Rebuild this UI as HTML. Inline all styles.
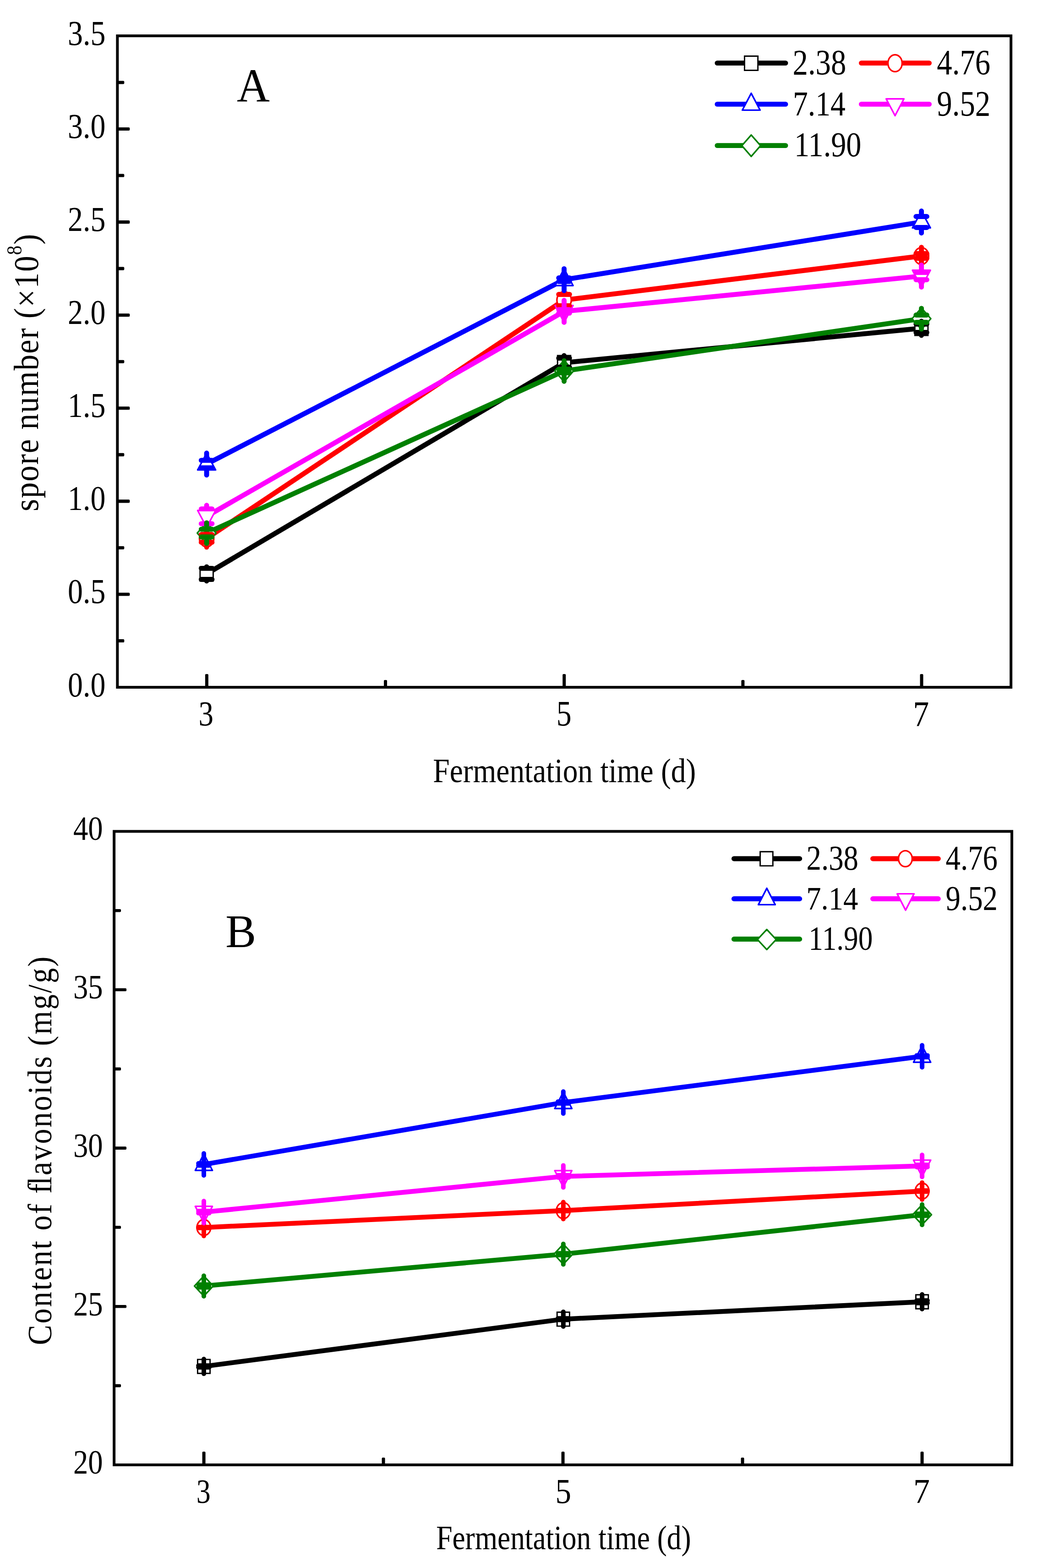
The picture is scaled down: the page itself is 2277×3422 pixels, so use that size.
<!DOCTYPE html>
<html lang="en"><head><meta charset="utf-8"><title>Fermentation time charts</title>
<style>
html,body{margin:0;padding:0;background:#fff;}
body{width:2277px;height:3422px;overflow:hidden;}
svg{display:block;}
</style></head>
<body>
<svg width="2277" height="3422" viewBox="0 0 2277 3422" font-family='"Liberation Serif", "DejaVu Serif", serif' fill="#000">
<rect width="2277" height="3422" fill="#fff"/>
<path d="M256.30 1395.00H269.10a2.2 2.2 0 0 1 2.2 2.2V1399.90a2.2 2.2 0 0 1 -2.2 2.2H256.30z" fill="#000"/>
<path d="M256.30 1293.45H281.10a2.2 2.2 0 0 1 2.2 2.2V1298.35a2.2 2.2 0 0 1 -2.2 2.2H256.30z" fill="#000"/>
<path d="M256.30 1191.90H269.10a2.2 2.2 0 0 1 2.2 2.2V1196.80a2.2 2.2 0 0 1 -2.2 2.2H256.30z" fill="#000"/>
<path d="M256.30 1090.35H281.10a2.2 2.2 0 0 1 2.2 2.2V1095.25a2.2 2.2 0 0 1 -2.2 2.2H256.30z" fill="#000"/>
<path d="M256.30 988.80H269.10a2.2 2.2 0 0 1 2.2 2.2V993.70a2.2 2.2 0 0 1 -2.2 2.2H256.30z" fill="#000"/>
<path d="M256.30 887.25H281.10a2.2 2.2 0 0 1 2.2 2.2V892.15a2.2 2.2 0 0 1 -2.2 2.2H256.30z" fill="#000"/>
<path d="M256.30 785.70H269.10a2.2 2.2 0 0 1 2.2 2.2V790.60a2.2 2.2 0 0 1 -2.2 2.2H256.30z" fill="#000"/>
<path d="M256.30 684.15H281.10a2.2 2.2 0 0 1 2.2 2.2V689.05a2.2 2.2 0 0 1 -2.2 2.2H256.30z" fill="#000"/>
<path d="M256.30 582.60H269.10a2.2 2.2 0 0 1 2.2 2.2V587.50a2.2 2.2 0 0 1 -2.2 2.2H256.30z" fill="#000"/>
<path d="M256.30 481.05H281.10a2.2 2.2 0 0 1 2.2 2.2V485.95a2.2 2.2 0 0 1 -2.2 2.2H256.30z" fill="#000"/>
<path d="M256.30 379.50H269.10a2.2 2.2 0 0 1 2.2 2.2V384.40a2.2 2.2 0 0 1 -2.2 2.2H256.30z" fill="#000"/>
<path d="M256.30 277.95H281.10a2.2 2.2 0 0 1 2.2 2.2V282.85a2.2 2.2 0 0 1 -2.2 2.2H256.30z" fill="#000"/>
<path d="M256.30 176.40H269.10a2.2 2.2 0 0 1 2.2 2.2V181.30a2.2 2.2 0 0 1 -2.2 2.2H256.30z" fill="#000"/>
<path d="M447.88 1499.90V1473.10a2.2 2.2 0 0 1 2.2 -2.2H452.68a2.2 2.2 0 0 1 2.2 2.2V1499.90z" fill="#000"/>
<path d="M838.04 1499.90V1486.10a2.2 2.2 0 0 1 2.2 -2.2H842.84a2.2 2.2 0 0 1 2.2 2.2V1499.90z" fill="#000"/>
<path d="M1228.20 1499.90V1473.10a2.2 2.2 0 0 1 2.2 -2.2H1233.00a2.2 2.2 0 0 1 2.2 2.2V1499.90z" fill="#000"/>
<path d="M1618.36 1499.90V1486.10a2.2 2.2 0 0 1 2.2 -2.2H1623.16a2.2 2.2 0 0 1 2.2 2.2V1499.90z" fill="#000"/>
<path d="M2008.52 1499.90V1473.10a2.2 2.2 0 0 1 2.2 -2.2H2013.32a2.2 2.2 0 0 1 2.2 2.2V1499.90z" fill="#000"/>
<rect x="256.30" y="78.20" width="1950.80" height="1421.70" fill="none" stroke="#000" stroke-width="6.0" stroke-linejoin="miter"/>
<polyline points="451.10,1252.40 1231.50,791.55 2011.60,716.40" fill="none" stroke="#000000" stroke-width="10.8" stroke-linejoin="round" stroke-linecap="round"/>
<polygon points="436.80,1236.85 465.40,1236.85 465.40,1267.95 436.80,1267.95" fill="#fff" stroke="#000000" stroke-width="2.9" stroke-linejoin="miter" stroke-miterlimit="10"/>
<polygon points="1217.20,776.00 1245.80,776.00 1245.80,807.10 1217.20,807.10" fill="#fff" stroke="#000000" stroke-width="2.9" stroke-linejoin="miter" stroke-miterlimit="10"/>
<polygon points="1997.30,700.85 2025.90,700.85 2025.90,731.95 1997.30,731.95" fill="#fff" stroke="#000000" stroke-width="2.9" stroke-linejoin="miter" stroke-miterlimit="10"/>
<polyline points="451.10,1175.00 1231.50,654.85 2011.60,558.65" fill="none" stroke="#ff0000" stroke-width="10.8" stroke-linejoin="round" stroke-linecap="round"/>
<ellipse cx="451.10" cy="1175.00" rx="15.70" ry="18.30" fill="#fff" stroke="#ff0000" stroke-width="3.4"/>
<ellipse cx="1231.50" cy="654.85" rx="15.70" ry="18.30" fill="#fff" stroke="#ff0000" stroke-width="3.4"/>
<ellipse cx="2011.60" cy="558.65" rx="15.70" ry="18.30" fill="#fff" stroke="#ff0000" stroke-width="3.4"/>
<polyline points="451.10,1012.75 1231.50,610.40 2011.60,484.50" fill="none" stroke="#0000ff" stroke-width="10.8" stroke-linejoin="round" stroke-linecap="round"/>
<polygon points="451.10,988.95 470.70,1025.65 431.50,1025.65" fill="#fff" stroke="#0000ff" stroke-width="3.4" stroke-linejoin="round"/>
<polygon points="1231.50,586.60 1251.10,623.30 1211.90,623.30" fill="#fff" stroke="#0000ff" stroke-width="3.4" stroke-linejoin="round"/>
<polygon points="2011.60,460.70 2031.20,497.40 1992.00,497.40" fill="#fff" stroke="#0000ff" stroke-width="3.4" stroke-linejoin="round"/>
<polyline points="451.10,1126.75 1231.50,679.50 2011.60,602.50" fill="none" stroke="#ff00ff" stroke-width="10.8" stroke-linejoin="round" stroke-linecap="round"/>
<polygon points="451.10,1150.85 470.70,1114.05 431.50,1114.05" fill="#fff" stroke="#ff00ff" stroke-width="3.4" stroke-linejoin="round"/>
<polygon points="1231.50,703.60 1251.10,666.80 1211.90,666.80" fill="#fff" stroke="#ff00ff" stroke-width="3.4" stroke-linejoin="round"/>
<polygon points="2011.60,626.60 2031.20,589.80 1992.00,589.80" fill="#fff" stroke="#ff00ff" stroke-width="3.4" stroke-linejoin="round"/>
<polyline points="451.10,1163.40 1231.50,809.70 2011.60,695.50" fill="none" stroke="#008000" stroke-width="10.8" stroke-linejoin="round" stroke-linecap="round"/>
<polygon points="451.10,1140.03 471.55,1163.40 451.10,1186.78 430.65,1163.40" fill="#fff" stroke="#008000" stroke-width="3.4" stroke-linejoin="round"/>
<polygon points="1231.50,786.33 1251.95,809.70 1231.50,833.08 1211.05,809.70" fill="#fff" stroke="#008000" stroke-width="3.4" stroke-linejoin="round"/>
<polygon points="2011.60,672.12 2032.05,695.50 2011.60,718.88 1991.15,695.50" fill="#fff" stroke="#008000" stroke-width="3.4" stroke-linejoin="round"/>
<path d="M451.10 1236.85V1240.35M451.10 1264.45V1267.95M439.30 1240.35H462.90M439.30 1264.45H462.90" stroke="#000000" stroke-width="10.9" stroke-linecap="round" fill="none"/>
<path d="M1231.50 776.00V781.55M1231.50 801.55V807.10M1219.70 781.55H1243.30M1219.70 801.55H1243.30" stroke="#000000" stroke-width="10.9" stroke-linecap="round" fill="none"/>
<path d="M2011.60 700.85V707.30M2011.60 725.50V731.95M1999.80 707.30H2023.40M1999.80 725.50H2023.40" stroke="#000000" stroke-width="10.9" stroke-linecap="round" fill="none"/>
<path d="M451.10 1155.95V1166.50M451.10 1183.50V1194.05M439.30 1166.50H462.90M439.30 1183.50H462.90" stroke="#ff0000" stroke-width="10.9" stroke-linecap="round" fill="none"/>
<path d="M1231.50 635.80V642.45M1231.50 667.25V673.90M1219.70 642.45H1243.30M1219.70 667.25H1243.30" stroke="#ff0000" stroke-width="10.9" stroke-linecap="round" fill="none"/>
<path d="M2011.60 539.60V553.40M2011.60 563.90V577.70M1999.80 553.40H2023.40M1999.80 563.90H2023.40" stroke="#ff0000" stroke-width="10.9" stroke-linecap="round" fill="none"/>
<path d="M451.10 988.80V1004.60M451.10 1020.90V1036.70M439.30 1004.60H462.90M439.30 1020.90H462.90" stroke="#0000ff" stroke-width="10.9" stroke-linecap="round" fill="none"/>
<path d="M1231.50 586.45V606.50M1231.50 614.30V634.35M1219.70 606.50H1243.30M1219.70 614.30H1243.30" stroke="#0000ff" stroke-width="10.9" stroke-linecap="round" fill="none"/>
<path d="M2011.60 460.55V472.50M2011.60 496.50V508.45M1999.80 472.50H2023.40M1999.80 496.50H2023.40" stroke="#0000ff" stroke-width="10.9" stroke-linecap="round" fill="none"/>
<path d="M451.10 1102.80V1110.60M451.10 1142.90V1150.70M439.30 1110.60H462.90M439.30 1142.90H462.90" stroke="#ff00ff" stroke-width="10.9" stroke-linecap="round" fill="none"/>
<path d="M1231.50 655.55V675.60M1231.50 683.40V703.45M1219.70 675.60H1243.30M1219.70 683.40H1243.30" stroke="#ff00ff" stroke-width="10.9" stroke-linecap="round" fill="none"/>
<path d="M2011.60 578.55V594.50M2011.60 610.50V626.45M1999.80 594.50H2023.40M1999.80 610.50H2023.40" stroke="#ff00ff" stroke-width="10.9" stroke-linecap="round" fill="none"/>
<path d="M451.10 1140.85V1155.00M451.10 1171.80V1185.95M439.30 1155.00H462.90M439.30 1171.80H462.90" stroke="#008000" stroke-width="10.9" stroke-linecap="round" fill="none"/>
<path d="M1231.50 787.15V805.80M1231.50 813.60V832.25M1219.70 805.80H1243.30M1219.70 813.60H1243.30" stroke="#008000" stroke-width="10.9" stroke-linecap="round" fill="none"/>
<path d="M2011.60 672.95V687.50M2011.60 703.50V718.05M1999.80 687.50H2023.40M1999.80 703.50H2023.40" stroke="#008000" stroke-width="10.9" stroke-linecap="round" fill="none"/>
<line x1="1565.85" y1="137.60" x2="1714.95" y2="137.60" stroke="#000000" stroke-width="10.9" stroke-linecap="round"/>
<polygon points="1625.40,122.45 1654.60,122.45 1654.60,153.55 1625.40,153.55" fill="#fff" stroke="#000000" stroke-width="2.9" stroke-linejoin="miter" stroke-miterlimit="10"/>
<text transform="matrix(0.6680 0 0 0.7750 1730.50 161.80)" font-size="100px" >2.38</text>
<line x1="1880.45" y1="137.60" x2="2028.55" y2="137.60" stroke="#ff0000" stroke-width="10.9" stroke-linecap="round"/>
<ellipse cx="1954.00" cy="137.95" rx="15.45" ry="18.45" fill="#fff" stroke="#ff0000" stroke-width="3.4"/>
<text transform="matrix(0.6680 0 0 0.7750 2045.30 161.80)" font-size="100px" >4.76</text>
<line x1="1565.85" y1="227.40" x2="1714.95" y2="227.40" stroke="#0000ff" stroke-width="10.9" stroke-linecap="round"/>
<polygon points="1640.00,203.60 1659.40,240.40 1620.60,240.40" fill="#fff" stroke="#0000ff" stroke-width="3.4" stroke-linejoin="round"/>
<text transform="matrix(0.6563 0 0 0.7600 1730.93 252.06)" font-size="100px" >7.14</text>
<line x1="1880.45" y1="227.40" x2="2028.55" y2="227.40" stroke="#ff00ff" stroke-width="10.9" stroke-linecap="round"/>
<polygon points="1954.00,252.40 1973.40,215.70 1934.60,215.70" fill="#fff" stroke="#ff00ff" stroke-width="3.4" stroke-linejoin="round"/>
<text transform="matrix(0.6680 0 0 0.7750 2045.30 251.60)" font-size="100px" >9.52</text>
<line x1="1565.85" y1="317.60" x2="1714.95" y2="317.60" stroke="#008000" stroke-width="10.9" stroke-linecap="round"/>
<polygon points="1640.00,294.60 1660.45,317.97 1640.00,341.35 1619.55,317.97" fill="#fff" stroke="#008000" stroke-width="3.4" stroke-linejoin="round"/>
<text transform="matrix(0.6625 0 0 0.7632 1733.90 341.26)" font-size="100px" >11.90</text>
<text transform="matrix(0.6580 0 0 0.7600 148.05 1519.50)" font-size="100px" >0.0</text>
<text transform="matrix(0.6580 0 0 0.7600 148.05 1316.40)" font-size="100px" >0.5</text>
<text transform="matrix(0.6580 0 0 0.7600 148.05 1113.30)" font-size="100px" >1.0</text>
<text transform="matrix(0.6580 0 0 0.7600 148.05 910.20)" font-size="100px" >1.5</text>
<text transform="matrix(0.6580 0 0 0.7600 148.05 707.10)" font-size="100px" >2.0</text>
<text transform="matrix(0.6580 0 0 0.7600 148.05 504.00)" font-size="100px" >2.5</text>
<text transform="matrix(0.6580 0 0 0.7600 148.05 300.90)" font-size="100px" >3.0</text>
<text transform="matrix(0.6580 0 0 0.7600 148.05 97.80)" font-size="100px" >3.5</text>
<text transform="matrix(0.6497 0 0 0.7673 433.61 1583.13)" font-size="100px" >3</text>
<text transform="matrix(0.6584 0 0 0.7729 1214.81 1583.23)" font-size="100px" >5</text>
<text transform="matrix(0.6994 0 0 0.7786 1993.15 1583.70)" font-size="100px" >7</text>
<text transform="matrix(0.9957 0 0 1.0288 517.00 221.80)" font-size="100px" >A</text>
<text transform="matrix(0.6542 0 0 0.7427 945.30 1707.32)" font-size="100px" >Fermentation time (d)</text>
<text transform="translate(82.90 1116.00) rotate(-90) scale(0.9000 1.0000)" font-size="77px" letter-spacing="2.07">spore number (×10<tspan font-size="46px" dy="-36">8</tspan><tspan dy="36">)</tspan></text>
<path d="M249.10 3020.79H261.90a2.2 2.2 0 0 1 2.2 2.2V3025.19a2.2 2.2 0 0 1 -2.2 2.2H249.10z" fill="#000"/>
<path d="M249.10 2847.97H273.90a2.2 2.2 0 0 1 2.2 2.2V2852.38a2.2 2.2 0 0 1 -2.2 2.2H249.10z" fill="#000"/>
<path d="M249.10 2675.16H261.90a2.2 2.2 0 0 1 2.2 2.2V2679.56a2.2 2.2 0 0 1 -2.2 2.2H249.10z" fill="#000"/>
<path d="M249.10 2502.35H273.90a2.2 2.2 0 0 1 2.2 2.2V2506.75a2.2 2.2 0 0 1 -2.2 2.2H249.10z" fill="#000"/>
<path d="M249.10 2329.54H261.90a2.2 2.2 0 0 1 2.2 2.2V2333.94a2.2 2.2 0 0 1 -2.2 2.2H249.10z" fill="#000"/>
<path d="M249.10 2156.72H273.90a2.2 2.2 0 0 1 2.2 2.2V2161.13a2.2 2.2 0 0 1 -2.2 2.2H249.10z" fill="#000"/>
<path d="M249.10 1983.91H261.90a2.2 2.2 0 0 1 2.2 2.2V1988.31a2.2 2.2 0 0 1 -2.2 2.2H249.10z" fill="#000"/>
<path d="M441.59 3196.90V3170.10a2.2 2.2 0 0 1 2.2 -2.2H446.39a2.2 2.2 0 0 1 2.2 2.2V3196.90z" fill="#000"/>
<path d="M833.57 3196.90V3183.10a2.2 2.2 0 0 1 2.2 -2.2H838.37a2.2 2.2 0 0 1 2.2 2.2V3196.90z" fill="#000"/>
<path d="M1225.55 3196.90V3170.10a2.2 2.2 0 0 1 2.2 -2.2H1230.35a2.2 2.2 0 0 1 2.2 2.2V3196.90z" fill="#000"/>
<path d="M1617.53 3196.90V3183.10a2.2 2.2 0 0 1 2.2 -2.2H1622.33a2.2 2.2 0 0 1 2.2 2.2V3196.90z" fill="#000"/>
<path d="M2009.51 3196.90V3170.10a2.2 2.2 0 0 1 2.2 -2.2H2014.31a2.2 2.2 0 0 1 2.2 2.2V3196.90z" fill="#000"/>
<rect x="249.10" y="1814.40" width="1959.90" height="1382.50" fill="none" stroke="#000" stroke-width="6.0" stroke-linejoin="miter"/>
<polyline points="445.00,2982.10 1229.80,2878.90 2013.05,2841.00" fill="none" stroke="#000000" stroke-width="10.5" stroke-linejoin="round" stroke-linecap="round"/>
<polygon points="431.40,2966.90 458.60,2966.90 458.60,2997.30 431.40,2997.30" fill="#fff" stroke="#000000" stroke-width="2.9" stroke-linejoin="miter" stroke-miterlimit="10"/>
<polygon points="1216.20,2863.70 1243.40,2863.70 1243.40,2894.10 1216.20,2894.10" fill="#fff" stroke="#000000" stroke-width="2.9" stroke-linejoin="miter" stroke-miterlimit="10"/>
<polygon points="1999.45,2825.80 2026.65,2825.80 2026.65,2856.20 1999.45,2856.20" fill="#fff" stroke="#000000" stroke-width="2.9" stroke-linejoin="miter" stroke-miterlimit="10"/>
<polyline points="445.00,2678.90 1229.80,2642.00 2013.05,2599.40" fill="none" stroke="#ff0000" stroke-width="10.5" stroke-linejoin="round" stroke-linecap="round"/>
<ellipse cx="445.00" cy="2678.90" rx="15.05" ry="17.40" fill="#fff" stroke="#ff0000" stroke-width="3.4"/>
<ellipse cx="1229.80" cy="2642.00" rx="15.05" ry="17.40" fill="#fff" stroke="#ff0000" stroke-width="3.4"/>
<ellipse cx="2013.05" cy="2599.40" rx="15.05" ry="17.40" fill="#fff" stroke="#ff0000" stroke-width="3.4"/>
<polyline points="445.00,2541.30 1229.80,2406.20 2013.05,2305.25" fill="none" stroke="#0000ff" stroke-width="10.5" stroke-linejoin="round" stroke-linecap="round"/>
<polygon points="445.00,2518.40 463.70,2554.30 426.30,2554.30" fill="#fff" stroke="#0000ff" stroke-width="3.4" stroke-linejoin="round"/>
<polygon points="1229.80,2383.30 1248.50,2419.20 1211.10,2419.20" fill="#fff" stroke="#0000ff" stroke-width="3.4" stroke-linejoin="round"/>
<polygon points="2013.05,2282.35 2031.75,2318.25 1994.35,2318.25" fill="#fff" stroke="#0000ff" stroke-width="3.4" stroke-linejoin="round"/>
<polyline points="445.00,2645.35 1229.80,2567.40 2013.05,2544.55" fill="none" stroke="#ff00ff" stroke-width="10.5" stroke-linejoin="round" stroke-linecap="round"/>
<polygon points="445.00,2668.55 463.70,2632.65 426.30,2632.65" fill="#fff" stroke="#ff00ff" stroke-width="3.4" stroke-linejoin="round"/>
<polygon points="1229.80,2590.60 1248.50,2554.70 1211.10,2554.70" fill="#fff" stroke="#ff00ff" stroke-width="3.4" stroke-linejoin="round"/>
<polygon points="2013.05,2567.75 2031.75,2531.85 1994.35,2531.85" fill="#fff" stroke="#ff00ff" stroke-width="3.4" stroke-linejoin="round"/>
<polyline points="445.00,2806.60 1229.80,2737.10 2013.05,2651.00" fill="none" stroke="#008000" stroke-width="10.5" stroke-linejoin="round" stroke-linecap="round"/>
<polygon points="445.00,2784.70 465.45,2806.60 445.00,2828.50 424.55,2806.60" fill="#fff" stroke="#008000" stroke-width="3.4" stroke-linejoin="round"/>
<polygon points="1229.80,2715.20 1250.25,2737.10 1229.80,2759.00 1209.35,2737.10" fill="#fff" stroke="#008000" stroke-width="3.4" stroke-linejoin="round"/>
<polygon points="2013.05,2629.10 2033.50,2651.00 2013.05,2672.90 1992.60,2651.00" fill="#fff" stroke="#008000" stroke-width="3.4" stroke-linejoin="round"/>
<path d="M445.00 2966.10V2980.20M445.00 2984.00V2998.10M433.20 2980.20H456.80M433.20 2984.00H456.80" stroke="#000000" stroke-width="10.0" stroke-linecap="round" fill="none"/>
<path d="M1229.80 2862.90V2877.30M1229.80 2880.50V2894.90M1218.00 2877.30H1241.60M1218.00 2880.50H1241.60" stroke="#000000" stroke-width="10.0" stroke-linecap="round" fill="none"/>
<path d="M2013.05 2825.00V2838.20M2013.05 2843.80V2857.00M2001.25 2838.20H2024.85M2001.25 2843.80H2024.85" stroke="#000000" stroke-width="10.0" stroke-linecap="round" fill="none"/>
<path d="M445.00 2660.40V2678.00M445.00 2679.80V2697.40M433.20 2678.00H456.80M433.20 2679.80H456.80" stroke="#ff0000" stroke-width="10.0" stroke-linecap="round" fill="none"/>
<path d="M1229.80 2623.50V2641.00M1229.80 2643.00V2660.50M1218.00 2641.00H1241.60M1218.00 2643.00H1241.60" stroke="#ff0000" stroke-width="10.0" stroke-linecap="round" fill="none"/>
<path d="M2013.05 2580.90V2598.20M2013.05 2600.60V2617.90M2001.25 2598.20H2024.85M2001.25 2600.60H2024.85" stroke="#ff0000" stroke-width="10.0" stroke-linecap="round" fill="none"/>
<path d="M445.00 2517.30V2539.10M445.00 2543.50V2565.30M433.20 2539.10H456.80M433.20 2543.50H456.80" stroke="#0000ff" stroke-width="10.0" stroke-linecap="round" fill="none"/>
<path d="M1229.80 2382.20V2404.35M1229.80 2408.05V2430.20M1218.00 2404.35H1241.60M1218.00 2408.05H1241.60" stroke="#0000ff" stroke-width="10.0" stroke-linecap="round" fill="none"/>
<path d="M2013.05 2281.25V2303.40M2013.05 2307.10V2329.25M2001.25 2303.40H2024.85M2001.25 2307.10H2024.85" stroke="#0000ff" stroke-width="10.0" stroke-linecap="round" fill="none"/>
<path d="M445.00 2621.35V2643.10M445.00 2647.60V2669.35M433.20 2643.10H456.80M433.20 2647.60H456.80" stroke="#ff00ff" stroke-width="10.0" stroke-linecap="round" fill="none"/>
<path d="M1229.80 2543.40V2565.00M1229.80 2569.80V2591.40M1218.00 2565.00H1241.60M1218.00 2569.80H1241.60" stroke="#ff00ff" stroke-width="10.0" stroke-linecap="round" fill="none"/>
<path d="M2013.05 2520.55V2542.20M2013.05 2546.90V2568.55M2001.25 2542.20H2024.85M2001.25 2546.90H2024.85" stroke="#ff00ff" stroke-width="10.0" stroke-linecap="round" fill="none"/>
<path d="M445.00 2784.30V2803.60M445.00 2809.60V2828.90M433.20 2803.60H456.80M433.20 2809.60H456.80" stroke="#008000" stroke-width="10.0" stroke-linecap="round" fill="none"/>
<path d="M1229.80 2714.80V2735.20M1229.80 2739.00V2759.40M1218.00 2735.20H1241.60M1218.00 2739.00H1241.60" stroke="#008000" stroke-width="10.0" stroke-linecap="round" fill="none"/>
<path d="M2013.05 2628.70V2649.10M2013.05 2652.90V2673.30M2001.25 2649.10H2024.85M2001.25 2652.90H2024.85" stroke="#008000" stroke-width="10.0" stroke-linecap="round" fill="none"/>
<line x1="1602.35" y1="1874.00" x2="1745.75" y2="1874.00" stroke="#000000" stroke-width="10.9" stroke-linecap="round"/>
<polygon points="1659.55,1858.80 1687.25,1858.80 1687.25,1889.60 1659.55,1889.60" fill="#fff" stroke="#000000" stroke-width="2.9" stroke-linejoin="miter" stroke-miterlimit="10"/>
<text transform="matrix(0.6480 0 0 0.7520 1760.60 1898.40)" font-size="100px" >2.38</text>
<line x1="1905.45" y1="1874.00" x2="2048.35" y2="1874.00" stroke="#ff0000" stroke-width="10.9" stroke-linecap="round"/>
<ellipse cx="1976.50" cy="1874.00" rx="14.95" ry="17.40" fill="#fff" stroke="#ff0000" stroke-width="3.4"/>
<text transform="matrix(0.6480 0 0 0.7520 2064.60 1898.40)" font-size="100px" >4.76</text>
<line x1="1602.35" y1="1961.50" x2="1745.75" y2="1961.50" stroke="#0000ff" stroke-width="10.9" stroke-linecap="round"/>
<polygon points="1674.00,1938.60 1692.40,1974.40 1655.60,1974.40" fill="#fff" stroke="#0000ff" stroke-width="3.4" stroke-linejoin="round"/>
<text transform="matrix(0.6461 0 0 0.7289 1760.30 1984.61)" font-size="100px" >7.14</text>
<line x1="1905.45" y1="1961.50" x2="2048.35" y2="1961.50" stroke="#ff00ff" stroke-width="10.9" stroke-linecap="round"/>
<polygon points="1977.00,1986.40 1995.40,1950.60 1958.60,1950.60" fill="#fff" stroke="#ff00ff" stroke-width="3.4" stroke-linejoin="round"/>
<text transform="matrix(0.6480 0 0 0.7520 2064.60 1985.90)" font-size="100px" >9.52</text>
<line x1="1602.35" y1="2049.50" x2="1745.75" y2="2049.50" stroke="#008000" stroke-width="10.9" stroke-linecap="round"/>
<polygon points="1674.00,2028.50 1694.45,2050.40 1674.00,2072.30 1653.55,2050.40" fill="#fff" stroke="#008000" stroke-width="3.4" stroke-linejoin="round"/>
<text transform="matrix(0.6328 0 0 0.7382 1765.36 2073.09)" font-size="100px" >11.90</text>
<text transform="matrix(0.6460 0 0 0.7420 160.00 3216.20)" font-size="100px" >20</text>
<text transform="matrix(0.6460 0 0 0.7420 160.00 2870.58)" font-size="100px" >25</text>
<text transform="matrix(0.6460 0 0 0.7420 160.00 2524.95)" font-size="100px" >30</text>
<text transform="matrix(0.6460 0 0 0.7420 160.00 2179.33)" font-size="100px" >35</text>
<text transform="matrix(0.6460 0 0 0.7420 160.00 1832.60)" font-size="100px" >40</text>
<text transform="matrix(0.6182 0 0 0.7465 428.66 3280.15)" font-size="100px" >3</text>
<text transform="matrix(0.6907 0 0 0.7519 1212.53 3279.55)" font-size="100px" >5</text>
<text transform="matrix(0.7190 0 0 0.7557 1994.03 3280.20)" font-size="100px" >7</text>
<text transform="matrix(1.0034 0 0 1.0205 492.14 2066.64)" font-size="100px" >B</text>
<text transform="matrix(0.6343 0 0 0.7328 952.16 3381.43)" font-size="100px" >Fermentation time (d)</text>
<text transform="translate(111.80 2935.50) rotate(-90) scale(0.9070 1.0000)" font-size="73px" letter-spacing="3.27" dx="0 0 0 0 0 0 0 0 0 0 0 0 -7">Content of flavonoids (mg/g)</text>
</svg>
</body></html>
